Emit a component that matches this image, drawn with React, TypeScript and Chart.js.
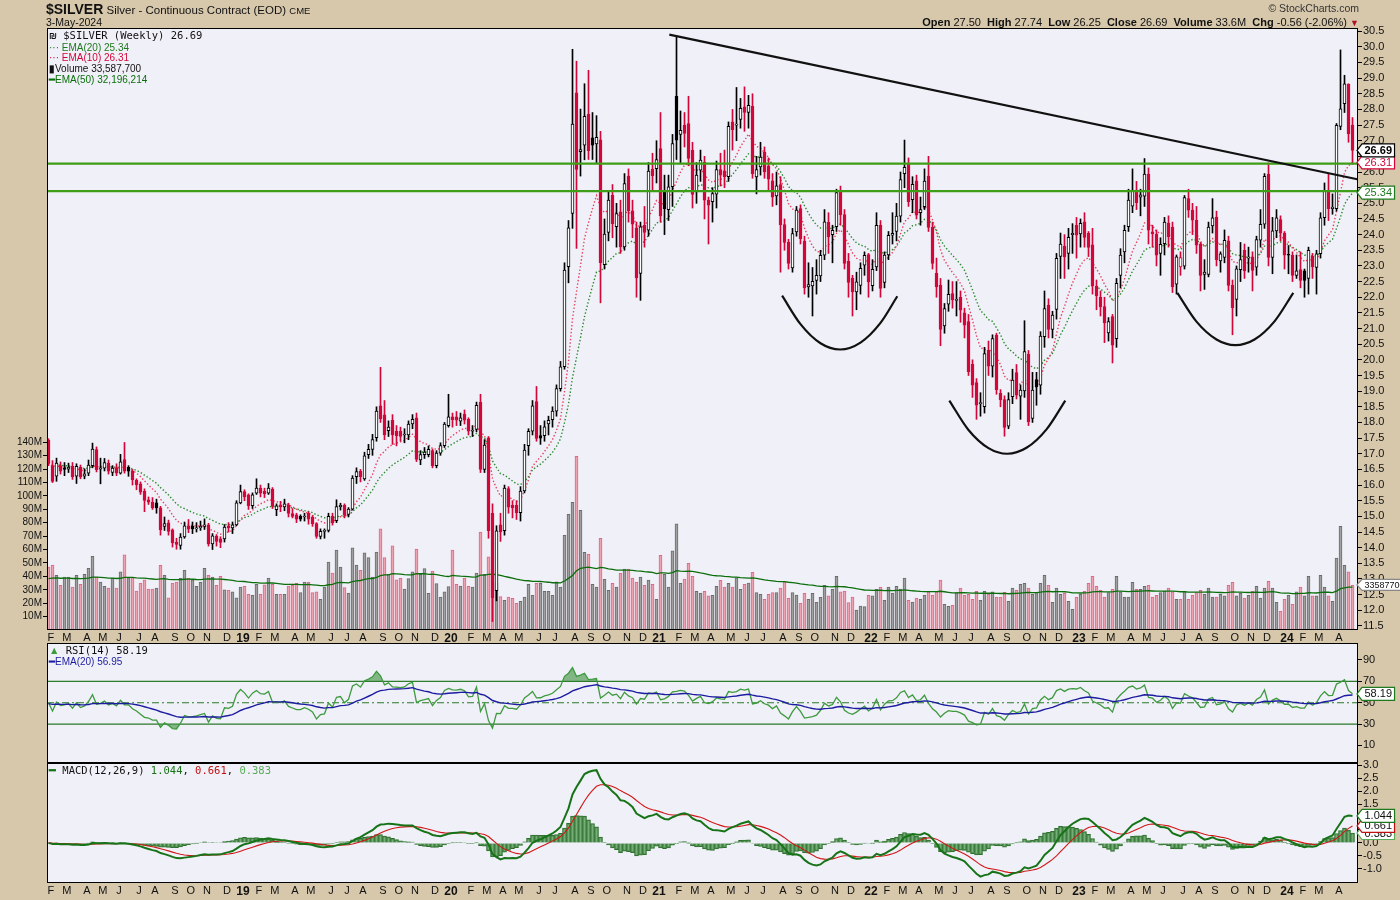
import React, { useEffect, useRef } from "react";
import { Chart, registerables } from "chart.js";

Chart.register(...registerables);

// ---------- weekly candles [open, high, low, close] (week of Friday) ----------
const silver2018 = [
  [17.43,17.48,16.62,16.70],[16.62,16.78,16.08,16.12],[16.28,16.86,16.12,16.70],[16.62,16.74,16.35,16.44],
  [16.55,16.72,16.30,16.50],[16.51,16.70,16.40,16.57],[16.60,16.72,16.18,16.26],[16.28,16.68,16.05,16.60],
  [16.57,16.64,16.20,16.26],[16.28,16.52,16.20,16.36],[16.38,16.80,16.30,16.64],[16.62,17.34,16.55,17.15],
  [17.13,17.22,16.42,16.49],[16.51,16.86,16.04,16.55],[16.54,16.85,16.45,16.72],[16.70,16.80,16.35,16.44],
  [16.40,16.62,16.30,16.54],[16.54,16.68,16.30,16.38],[16.38,16.98,16.35,16.74],[16.81,17.36,16.38,16.44],
  [16.57,16.62,16.28,16.44],[16.44,16.50,16.00,16.17],[16.15,16.20,15.85,16.01],[16.04,16.10,15.70,15.77],
  [15.80,15.88,15.15,15.51],[15.53,15.62,15.38,15.45],[15.45,15.60,15.22,15.27],[15.43,15.55,15.10,15.27],
  [15.27,15.32,14.40,14.57],[14.68,14.98,14.55,14.77],[14.79,14.88,14.40,14.52],[14.57,14.60,14.02,14.15],
  [14.17,14.30,13.95,14.10],[14.07,14.45,13.95,14.34],[14.34,14.82,14.30,14.70],[14.70,14.90,14.48,14.59],
  [14.68,14.82,14.45,14.60],[14.60,14.80,14.50,14.63],[14.63,14.85,14.55,14.68],[14.68,14.92,14.58,14.73],
  [14.73,14.78,14.05,14.12],[14.12,14.45,13.94,14.38],[14.36,14.42,14.05,14.20],[14.28,14.35,14.00,14.17],
  [14.28,14.74,14.18,14.66],[14.68,14.80,14.50,14.63],[14.63,14.82,14.45,14.73],[14.73,15.50,14.70,15.43],
];
const silver2019 = [
  [15.43,16.00,15.40,15.79],[15.79,15.85,15.50,15.62],[15.69,15.72,15.22,15.34],[15.34,15.75,15.25,15.69],
  [15.74,16.20,15.70,15.90],[15.90,16.00,15.62,15.74],[15.80,15.90,15.60,15.72],[15.74,16.05,15.70,15.90],
  [15.87,15.92,15.25,15.32],[15.21,15.40,15.02,15.34],[15.37,15.48,15.15,15.30],[15.30,15.55,15.18,15.40],
  [15.37,15.42,14.98,15.09],[15.09,15.25,14.95,15.00],[15.05,15.10,14.80,14.91],[15.00,15.05,14.85,14.91],
  [14.98,15.10,14.85,14.99],[15.10,15.15,14.75,14.91],[14.98,15.02,14.68,14.77],[14.77,14.80,14.30,14.36],
  [14.36,14.60,14.28,14.52],[14.52,14.60,14.30,14.55],[14.55,15.10,14.50,15.00],[15.00,15.10,14.72,14.79],
  [14.86,15.53,14.80,15.31],[15.31,15.42,15.20,15.35],[15.35,15.40,14.95,15.04],[15.06,15.28,14.98,15.23],
  [15.23,16.30,15.20,16.22],[16.27,16.55,16.05,16.43],[16.44,16.50,16.10,16.27],[16.20,17.05,16.15,16.93],
  [16.97,17.30,16.85,17.14],[17.14,17.62,16.95,17.45],[17.51,18.50,17.40,18.36],[18.53,19.76,18.00,18.12],
  [18.24,18.70,17.45,17.60],[17.74,18.05,17.55,17.85],[18.07,18.25,17.30,17.60],[17.72,17.90,17.25,17.58],
  [17.72,17.85,17.40,17.55],[17.60,17.80,17.35,17.63],[17.60,18.05,17.45,17.95],[17.95,18.25,17.80,18.10],
  [18.15,18.30,16.75,16.82],[16.80,17.10,16.65,16.97],[16.97,17.20,16.85,17.05],[16.97,17.25,16.90,17.14],
  [17.10,17.15,16.55,16.62],[16.62,17.10,16.55,17.02],[17.02,17.35,16.95,17.26],[17.26,18.00,17.20,17.95],
];
const silver2020 = [
  [17.90,18.90,17.85,18.18],[18.18,18.30,17.85,18.09],[18.18,18.35,17.90,18.07],[18.04,18.30,17.90,18.15],
  [18.27,18.40,17.95,18.07],[18.10,18.15,17.60,17.72],[17.72,17.90,17.55,17.75],[17.78,18.65,17.70,18.55],
  [18.64,18.90,16.40,16.50],[16.50,17.45,16.40,17.28],[17.51,17.55,14.30,14.54],[15.10,15.40,11.64,12.40],
  [12.63,14.70,12.30,14.54],[14.73,15.10,14.20,14.50],[14.54,16.00,14.40,15.90],[15.89,15.95,15.10,15.29],
  [15.35,15.50,14.95,15.27],[15.35,15.50,14.90,15.12],[15.12,15.95,14.85,15.81],[15.81,17.30,15.75,17.12],
  [17.26,17.80,16.95,17.72],[17.72,18.70,17.60,18.53],[18.67,19.15,17.40,17.49],[17.58,17.90,17.30,17.50],
  [17.58,18.05,17.40,17.86],[17.95,18.20,17.60,18.07],[18.09,18.50,17.85,18.36],[18.36,19.20,18.20,19.08],
  [19.08,19.95,19.00,19.78],[19.78,23.10,19.70,22.87],[22.98,24.45,22.46,24.22],[24.68,29.92,24.20,27.53],
  [28.53,29.54,23.56,26.08],[26.65,28.01,25.87,26.72],[26.86,28.82,26.39,27.78],[27.84,29.25,26.40,26.68],
  [27.09,27.90,26.40,26.86],[26.90,27.80,26.30,27.11],[27.03,27.30,21.82,23.10],[23.04,24.50,22.90,24.02],
  [24.07,25.40,23.80,25.10],[25.26,25.60,23.90,24.35],[24.25,25.00,23.60,24.67],[24.73,25.10,23.40,23.61],
  [23.61,25.95,23.50,25.63],[25.87,26.10,24.40,24.76],[24.76,25.10,23.90,24.33],[24.22,24.40,22.00,22.62],
  [22.76,24.40,21.90,24.25],[24.30,24.90,23.60,24.07],[24.14,26.30,23.95,26.03],[26.09,26.60,25.40,25.88],
];
const silver2021 = [
  [26.11,27.00,25.65,26.40],[26.75,27.90,24.40,24.60],[25.39,25.90,24.00,24.83],[24.80,25.90,24.45,25.53],
  [25.53,27.20,24.90,26.91],[28.42,30.35,26.40,27.02],[27.20,27.95,26.30,27.33],[27.50,27.90,26.80,27.23],
  [27.55,28.42,26.20,26.43],[26.70,26.95,24.85,25.28],[25.36,26.30,25.00,25.90],[26.06,26.70,25.70,26.38],
  [26.32,26.50,24.50,25.10],[25.10,25.20,23.70,24.94],[25.05,25.50,24.40,25.31],[25.29,26.35,24.85,26.08],
  [26.08,26.60,25.55,25.90],[26.04,26.70,25.50,25.85],[25.85,27.60,25.70,27.46],[27.60,28.00,26.70,27.35],
  [27.50,28.70,27.00,27.52],[27.68,28.35,27.40,28.03],[28.08,28.72,27.30,27.90],[27.90,28.45,27.40,28.13],
  [28.10,28.50,25.80,25.95],[25.84,26.50,25.30,26.08],[26.16,26.95,25.90,26.48],[26.64,26.80,25.80,26.00],
  [26.20,26.45,25.40,25.77],[25.72,25.95,24.90,25.20],[25.24,26.00,24.95,25.56],[25.60,25.85,22.80,24.32],
  [24.32,24.50,23.50,23.75],[23.75,23.85,22.90,23.08],[22.94,24.20,22.80,24.03],[24.09,24.90,23.95,24.78],
  [24.83,24.95,23.70,23.87],[23.79,23.95,22.10,22.30],[22.33,23.10,22.00,22.40],[22.36,22.95,21.40,22.51],
  [22.54,23.20,22.10,22.70],[22.68,23.50,22.50,23.34],[23.34,24.80,23.20,24.41],[24.39,24.70,23.40,23.93],
  [24.00,24.30,23.10,24.14],[24.25,25.45,24.10,25.34],[25.40,25.55,24.30,24.64],[24.64,24.80,22.90,23.08],
  [23.15,23.40,22.00,22.47],[22.60,22.70,21.40,22.17],[22.17,22.80,21.60,22.49],[22.38,23.10,22.10,22.92],
  [23.02,23.45,22.70,23.34],
];
const silver2022 = [
  [23.36,23.40,22.00,22.49],[22.37,23.20,22.20,22.89],[22.97,24.70,22.85,24.30],[24.30,24.45,22.00,22.28],
  [22.47,23.45,22.30,23.35],[23.35,24.10,23.20,23.98],[23.98,24.70,23.70,24.04],[24.10,25.00,23.80,24.59],
  [24.59,26.00,24.40,25.76],[25.95,27.02,25.50,26.15],[26.27,26.45,24.90,25.05],[25.12,25.85,24.70,25.61],
  [25.72,25.90,24.50,24.62],[24.70,25.20,24.30,24.80],[24.89,26.10,24.80,25.71],[25.87,26.50,24.10,24.23],
  [24.23,24.40,22.90,23.08],[22.76,23.25,22.00,22.33],[22.39,22.60,20.45,20.97],[21.08,21.80,20.85,21.64],
  [21.78,22.55,21.55,22.09],[22.12,22.50,21.65,21.91],[21.90,22.50,21.40,21.92],[22.00,22.20,21.20,21.59],
  [21.50,21.65,20.70,21.11],[21.22,21.45,19.50,19.62],[19.86,20.00,18.80,19.19],[19.27,19.40,18.10,18.55],
  [18.60,18.95,18.20,18.62],[18.50,20.40,18.30,20.20],[20.30,20.60,19.50,19.80],[19.80,20.80,19.45,20.68],
  [20.79,20.85,18.90,19.05],[18.93,19.05,18.50,18.73],[18.73,18.85,17.56,17.84],[17.88,18.95,17.80,18.73],
  [18.82,19.70,18.60,19.35],[19.59,19.85,18.75,18.87],[18.84,19.20,18.10,19.03],[19.01,21.25,18.80,20.26],
  [20.18,20.30,17.90,18.02],[18.13,19.60,18.00,19.03],[19.37,19.60,18.55,19.14],[19.19,20.90,18.90,20.76],
  [20.74,22.20,20.40,21.64],[21.75,21.95,20.70,20.97],[20.97,21.55,20.70,21.43],[21.61,23.40,21.30,23.24],
  [23.30,24.05,22.60,23.70],[23.63,24.00,22.60,23.29],[23.40,24.20,22.90,23.91],[24.00,24.35,23.40,24.04],
];
const silver2023 = [
  [24.30,24.55,23.25,23.98],[24.02,24.50,23.60,24.36],[24.41,24.70,23.60,23.91],[24.04,24.10,23.30,23.59],
  [23.67,24.20,22.10,22.36],[22.36,22.55,21.60,22.04],[22.00,22.20,21.40,21.70],[21.70,22.00,20.55,21.18],
  [20.86,21.35,20.60,21.22],[21.38,21.45,19.90,20.47],[20.68,22.60,20.40,22.44],[22.70,23.55,22.30,23.35],
  [23.45,24.30,23.10,24.14],[24.25,25.45,24.10,25.10],[24.91,26.10,24.70,25.42],[25.42,25.70,24.80,25.02],
  [25.20,25.45,24.60,25.27],[25.23,26.43,24.90,25.93],[25.93,26.13,23.70,24.14],[24.09,24.30,23.60,24.02],
  [24.02,24.15,23.00,23.34],[23.40,23.90,22.70,23.69],[23.71,24.55,23.35,24.40],[24.37,24.60,23.60,23.93],
  [24.24,24.40,22.15,22.33],[22.42,23.35,22.10,23.29],[22.97,23.45,22.70,23.27],[22.99,25.25,22.90,25.18],
  [25.15,25.45,24.55,24.78],[24.78,25.00,24.00,24.46],[24.46,24.90,23.40,23.66],[23.69,23.75,22.20,22.70],
  [22.73,23.20,22.25,22.80],[22.73,24.40,22.65,24.24],[24.28,25.15,24.05,24.54],[24.56,24.75,23.00,23.20],
  [23.16,23.45,22.80,23.39],[23.27,24.15,23.10,23.82],[23.80,23.95,22.20,22.38],[22.38,22.55,20.80,21.67],
  [21.93,23.00,21.40,22.91],[22.88,23.75,22.50,23.20],[23.50,23.70,22.60,22.84],[23.25,23.60,22.80,23.27],
  [23.29,23.45,22.20,22.86],[22.96,23.95,22.70,23.84],[23.82,24.80,23.60,24.33],[24.33,25.95,24.20,25.86],
  [25.93,26.29,23.00,23.27],[23.27,24.55,22.75,24.12],[24.12,24.80,23.90,24.54],[24.48,24.60,23.80,24.05],
];
const silver2024 = [
  [24.05,24.10,22.90,23.34],[23.36,23.65,22.75,23.34],[23.34,23.45,22.50,22.70],[22.70,23.35,22.60,22.84],
  [22.88,23.45,22.30,22.54],[22.84,22.90,22.00,22.54],[22.60,23.60,22.10,23.50],[23.31,23.40,22.60,22.97],
  [22.95,23.50,22.10,23.39],[23.39,24.70,23.25,24.54],[24.54,25.65,24.30,25.39],[25.39,25.93,24.45,24.83],
  [24.83,25.30,24.65,24.88],[24.83,27.55,24.75,27.49],[27.46,29.90,27.35,28.02],[28.18,29.09,27.90,28.82],
  [28.80,28.82,26.95,27.22],[27.50,27.74,26.25,26.69],
];

// ---------- weekly volume, millions of contracts ----------
const volume2018 = [47,48.5,40.8,33.3,39.5,39.5,32,40.8,34,41.5,46,55,39.5,35.8,32.6,31.3,38.5,31.3,43.3,56,39,39,29,35,37.5,30.6,30.6,31.3,48.3,40.8,24,35,35.8,38.5,44.5,38.5,37.5,32.6,35.6,46,40.8,39.5,33.3,40,29.9,29.6,28.4,24];
const volume2019 = [32,32.6,26.6,25.9,34,26.6,33.6,38.8,34,26.6,26.6,26.6,32.8,33.3,34.8,27.9,35.8,35.8,27.9,28.4,22.9,32,50.7,42.5,59.7,47,31.6,27.6,61.2,48.5,44.5,57.5,54,39.5,58.2,75.4,54,41.5,62.7,37.5,38.5,30.6,38.3,43.3,60.4,41.5,45.8,27.4,44,34.6,24.6,28.4];
const volume2020 = [32.3,59.7,34,32.8,38.8,32.6,32,42.5,73,41.5,54.5,45,34.8,24.9,22.1,24.6,23.6,19.9,21.4,24.6,34,25.9,34.8,34.8,28.9,28.9,25.9,36,32,70.6,86.3,95.3,129.6,89.3,58,56.5,34,32,68.4,37.8,29.6,34.8,32,42.3,45.5,45.5,38.8,35.8,39.5,33.3,37.3,34];
const volume2021 = [22.9,55.7,41.5,32,59,79.1,34.8,38,49.8,40,28.9,27.6,28.9,25.4,25.9,32.6,37,32,34.8,32,39,30.3,34,35,43,27.9,26.6,22.9,26.6,27.9,27.9,31.3,35.8,23.6,27.9,26.1,19.9,27.4,22.9,27.4,20.6,24.4,33.3,25.4,30.3,40,28.4,29.1,20.4,24.6,14.9,17.9,17.4];
const volume2022 = [25.9,25.4,30.3,32,22.1,32,27.6,32.6,30.6,38.8,22.1,20.9,23.9,22.9,25.9,28.4,25.9,28.4,37.3,19.2,17.7,18.4,27.9,31.3,25.9,26.6,22.9,28.9,22.1,28.9,26.6,28.4,24.6,24.6,28.1,21.4,31.3,29.6,34,34.8,31.3,26.6,27.9,34.8,40.8,33.3,20.6,31.3,26.6,27.4,21.4,15.4];
const volume2023 = [24.6,26.6,28.9,34.8,40,32.6,29.6,24.6,27.9,30.3,40,28.4,24.6,24.6,35.6,30.3,30.3,32.6,33.3,24.6,25.9,27.9,28.9,31.3,28.4,22.9,22.9,28.9,22.9,25.9,27.9,29.6,26.6,31.3,24.6,24.6,26.6,25.4,33.3,35.6,25.4,27.4,23.9,25.9,28.9,32.6,23.9,31.3,36.3,31.3,20.6,13.9];
const volume2024 = [22.9,25.9,19.2,28.4,32,25.4,40,25.4,25.4,40.8,32,25.4,21.4,53.7,77.4,48.3,43.3,33.59];

// ---------- axis ticks ----------
const monthTickIndex = [0,4,9,13,17,22,26,31,35,39,44,48,52,56,61,65,70,74,78,83,87,91,96,100,105,109,113,117,122,126,131,135,139,144,148,152,157,161,165,170,174,178,183,187,191,196,200,205,209,213,217,222,226,230,235,239,244,248,252,257,261,265,270,274,278,283,287,291,296,300,304,309,313,317,322];
const monthTickLabel = ["F","M","A","M","J","J","A","S","O","N","D","19","F","M","A","M","J","J","A","S","O","N","D","20","F","M","A","M","J","J","A","S","O","N","D","21","F","M","A","M","J","J","A","S","O","N","D","22","F","M","A","M","J","J","A","S","O","N","D","23","F","M","A","M","J","J","A","S","O","N","D","24","F","M","A"];
const priceTicks = [11.5,12,12.5,13,13.5,14,14.5,15,15.5,16,16.5,17,17.5,18,18.5,19,19.5,20,20.5,21,21.5,22,22.5,23,23.5,24,24.5,25,25.5,26,26.5,27,27.5,28,28.5,29,29.5,30,30.5];
const volumeTicks = [10,20,30,40,50,60,70,80,90,100,110,120,130,140];
const rsiTicks = [10,30,50,70,90];
const macdTicks = [-1,-0.5,0,0.5,1,1.5,2,2.5,3];

// ---------- drawn annotations (week index, price) ----------
const trendX = [155.2, 327.2];
const trendY = [30.39, 25.77];
const supportLevels = [26.27, 25.39];
const arc1X = [183.4,188,193,197.9,203,208,212.2];
const arc1Y = [22.05,21.14,20.53,20.33,20.55,21.18,22.03];
const arc2X = [225.2,230,235,239.7,244.5,249.5,254.2];
const arc2Y = [18.70,17.76,17.18,17.0,17.19,17.78,18.70];
const arc3X = [282.2,287,292,296.7,301.5,306.5,311.2];
const arc3Y = [22.14,21.22,20.65,20.47,20.65,21.23,22.14];

// ---------- last values shown in legends / tags ----------
const lastClose = 26.69, lastEma10 = 26.31, lastEma20 = 25.34, lastVolumeM = 33.5877;
const lastRsi = 58.19, lastMacd = 1.044, lastSignal = 0.661, lastHist = 0.383;

// ---------- styling ----------
const SANS = "'Liberation Sans', Arial, sans-serif";
const MONO = "'DejaVu Sans Mono', monospace";
const TAN = "#D7C8AC";
const PLOT_BG = "#F0F0F8";
const RED = "#D3063A";
const GREEN_LINE = "#3F9E17";

const bars = [...silver2018, ...silver2019, ...silver2020, ...silver2021, ...silver2022, ...silver2023, ...silver2024];
const volumes = [...volume2018, ...volume2019, ...volume2020, ...volume2021, ...volume2022, ...volume2023, ...volume2024];
const N = bars.length;
const X_MIN = -0.375;
const X_MAX = N + 0.375;
const closes = bars.map((b) => b[3]);

function ema(vals: number[], p: number, seed?: number) {
  const k = 2 / (p + 1);
  const out: number[] = [];
  vals.forEach((v, i) => {
    if (i === 0) out.push(seed === undefined ? v : seed + k * (v - seed));
    else out.push(out[i - 1] + k * (v - out[i - 1]));
  });
  return out;
}
function rsi(vals: number[], p: number) {
  let ag = 0.12, al = 0.12;
  const out: number[] = [50];
  for (let i = 1; i < vals.length; i++) {
    const d = vals[i] - vals[i - 1];
    ag = (ag * (p - 1) + Math.max(d, 0)) / p;
    al = (al * (p - 1) + Math.max(-d, 0)) / p;
    out.push(al === 0 ? 100 : 100 - 100 / (1 + ag / al));
  }
  return out;
}

const ema10 = ema(closes, 10);
const ema20 = ema(closes, 20);
const volEma50 = ema(volumes, 50, 38);
const rsi14 = rsi(closes, 14);
const rsiEma20 = ema(rsi14, 20, 49);
const ema12 = ema(closes, 12);
const ema26 = ema(closes, 26);
const macd = ema12.map((v, i) => v - ema26[i]);
const signal = ema(macd, 9);
const hist = macd.map((v, i) => v - signal[i]);

const pts = (arr: number[]) => arr.map((y, i) => ({ x: i, y }));
const xy = (xs: number[], ys: number[]) => xs.map((x, i) => ({ x, y: ys[i] }));
const hline = (y: number) => [{ x: X_MIN, y }, { x: X_MAX, y }];

const candleColor = bars.map((b, i) => (b[3] >= (i > 0 ? bars[i - 1][3] : b[0]) ? "#000000" : RED));
const candleFill = bars.map((b, i) => (b[3] >= b[0] ? "#FFFFFF" : candleColor[i]));
const volUp = volumes.map((_, i) => i > 0 && bars[i][3] >= bars[i - 1][3]);

const xTickFont = (c: any) => {
  const l = monthTickLabel[c.index] || "";
  return /^\d/.test(l) ? { family: SANS, size: 12, weight: "bold" } : { family: SANS, size: 11 };
};

function xAxis(display: boolean, height: number) {
  return {
    type: "linear",
    min: X_MIN,
    max: X_MAX,
    offset: false,
    bounds: "data",
    position: "bottom",
    display,
    grid: { display: false, drawTicks: false },
    border: { display: false },
    afterBuildTicks: (s: any) => {
      s.ticks = monthTickIndex.map((v) => ({ value: v + 0.6 }));
    },
    afterFit: (s: any) => {
      s.height = height;
      s.paddingLeft = 0;
      s.paddingRight = 0;
    },
    ticks: {
      autoSkip: false,
      maxRotation: 0,
      minRotation: 0,
      padding: 1,
      color: "#111",
      font: xTickFont,
      callback: (_v: any, i: number) => monthTickLabel[i] || "",
    },
  };
}

function yAxis(position: string, min: number, max: number, ticks: number[], width: number, fmt: (v: number) => string, size = 11) {
  return {
    type: "linear",
    position,
    min,
    max,
    bounds: "data",
    afterBuildTicks: (s: any) => {
      s.ticks = ticks.map((v) => ({ value: v }));
    },
    afterFit: (s: any) => {
      s.width = width;
      s.paddingTop = 0;
      s.paddingBottom = 0;
    },
    grid: { drawOnChartArea: false, drawTicks: true, tickLength: 4, color: "#000", lineWidth: 1 },
    border: { display: false },
    ticks: { autoSkip: false, padding: 1, color: "#111", font: { family: SANS, size }, callback: (v: any) => fmt(Number(v)) },
  };
}

type Tag = { axis: string; value: number; text: string; border: string; color: string; bold?: boolean; size?: number };

function panelPlugin(id: string, tags: Tag[]) {
  return {
    id,
    beforeDraw(chart: any) {
      const { ctx, chartArea: a } = chart;
      ctx.save();
      ctx.fillStyle = PLOT_BG;
      ctx.fillRect(a.left, a.top, a.right - a.left, a.bottom - a.top);
      ctx.restore();
    },
    afterDraw(chart: any) {
      const { ctx, chartArea: a } = chart;
      ctx.save();
      ctx.strokeStyle = "#000";
      ctx.lineWidth = 1;
      ctx.strokeRect(a.left + 0.5, a.top + 0.5, a.right - a.left - 1, a.bottom - a.top - 1);
      tags.forEach((t) => {
        const y = chart.scales[t.axis].getPixelForValue(t.value);
        const size = t.size || 11;
        ctx.font = `${t.bold ? "bold " : ""}${size}px ${SANS}`;
        const tw = ctx.measureText(t.text).width;
        const h = size + 2;
        const x0 = a.right - 1;
        const x1 = x0 + 5;
        const x2 = x1 + tw + 5;
        ctx.beginPath();
        ctx.moveTo(x0, y);
        ctx.lineTo(x1, y - h / 2);
        ctx.lineTo(x2, y - h / 2);
        ctx.lineTo(x2, y + h / 2);
        ctx.lineTo(x1, y + h / 2);
        ctx.closePath();
        ctx.fillStyle = "#FFFFFF";
        ctx.fill();
        ctx.lineWidth = 1.2;
        ctx.strokeStyle = t.border;
        ctx.stroke();
        ctx.fillStyle = t.color;
        ctx.textBaseline = "middle";
        ctx.textAlign = "left";
        ctx.fillText(t.text, x1 + 2.5, y + 0.5);
      });
      ctx.restore();
    },
  };
}

const line = (data: any[], color: string, width: number, extra: any = {}) => ({
  type: "line",
  data,
  borderColor: color,
  borderWidth: width,
  pointRadius: 0,
  fill: false,
  tension: 0,
  ...extra,
});

const baseOptions = (padTop: number, padLeft: number) => ({
  responsive: false,
  maintainAspectRatio: false,
  animation: false,
  devicePixelRatio: 1,
  events: [],
  layout: { padding: { top: padTop, left: padLeft, right: 0, bottom: 0 } },
  plugins: { legend: { display: false }, tooltip: { enabled: false } },
});

function mainConfig(): any {
  return {
    type: "bar",
    data: {
      datasets: [
        {
          type: "bar",
          yAxisID: "yVol",
          data: pts(volumes),
          backgroundColor: volUp.map((u) => (u ? "#A0A0A0" : "#EEA3B1")),
          borderColor: volUp.map((u) => (u ? "#6B6B6B" : "#E0678A")),
          borderWidth: 1,
          borderSkipped: "start",
          barThickness: 3,
          grouped: false,
          order: 20,
        },
        line(pts(volEma50), "#0B6E0B", 1.3, { yAxisID: "yVol", order: 19 }),
        line(pts(ema20), "#2B8A2B", 1.4, { yAxisID: "y", borderDash: [1.4, 2.1], order: 13 }),
        line(pts(ema10), "#E8405E", 1.4, { yAxisID: "y", borderDash: [1.4, 2.1], order: 12 }),
        {
          type: "bar",
          yAxisID: "y",
          data: bars.map((b, i) => ({ x: i, y: [b[2], b[1]] })),
          backgroundColor: candleColor,
          borderWidth: 0,
          barThickness: 1,
          grouped: false,
          order: 11,
        },
        {
          type: "bar",
          yAxisID: "y",
          data: bars.map((b, i) => ({ x: i, y: [Math.min(b[0], b[3]), Math.max(b[0], b[3])] })),
          backgroundColor: candleFill,
          borderColor: candleColor,
          borderWidth: 1,
          borderSkipped: false,
          barThickness: 3,
          minBarLength: 1,
          grouped: false,
          order: 10,
        },
        line(hline(supportLevels[0]), GREEN_LINE, 2.2, { yAxisID: "y", order: 3 }),
        line(hline(supportLevels[1]), GREEN_LINE, 2.2, { yAxisID: "y", order: 3 }),
        line(xy(trendX, trendY), "#111", 2.2, { yAxisID: "y", order: 2 }),
        line(xy(arc1X, arc1Y), "#111", 2.2, { yAxisID: "y", order: 2, cubicInterpolationMode: "monotone" }),
        line(xy(arc2X, arc2Y), "#111", 2.2, { yAxisID: "y", order: 2, cubicInterpolationMode: "monotone" }),
        line(xy(arc3X, arc3Y), "#111", 2.2, { yAxisID: "y", order: 2, cubicInterpolationMode: "monotone" }),
      ],
    },
    options: {
      ...baseOptions(28, 0),
      scales: {
        x: xAxis(true, 13),
        y: yAxis("right", 11.37, 30.6, priceTicks, 42, (v) => v.toFixed(1)),
        yVol: yAxis("left", 0, 449, volumeTicks, 47, (v) => `${v}M`, 10),
      },
    },
    plugins: [
      panelPlugin("mainPanel", [
        { axis: "yVol", value: lastVolumeM, text: "33587700", border: "#888", color: "#111", size: 9 },
        { axis: "y", value: lastEma20, text: lastEma20.toFixed(2), border: "#1E7A1E", color: "#1E7A1E" },
        { axis: "y", value: lastEma10, text: lastEma10.toFixed(2), border: RED, color: RED },
        { axis: "y", value: lastClose, text: lastClose.toFixed(2), border: "#000", color: "#000", bold: true },
      ]),
    ],
  };
}

function rsiConfig(): any {
  const RSI_FILL = "rgba(70,150,70,0.65)";
  return {
    type: "line",
    data: {
      datasets: [
        line(pts(rsi14), "#3E9A3E", 1.3, {
          fill: { target: { value: 70 }, above: RSI_FILL, below: "rgba(0,0,0,0)" },
          order: 1,
        }),
        line(pts(rsi14), "rgba(0,0,0,0)", 0, {
          fill: { target: { value: 30 }, above: "rgba(0,0,0,0)", below: RSI_FILL },
          order: 2,
        }),
        line(pts(rsiEma20), "#1C1CA0", 1.4, { order: 0 }),
        line(hline(70), "#2A7A2A", 1.2, { order: 5 }),
        line(hline(30), "#2A7A2A", 1.2, { order: 5 }),
        line(hline(50), "#2A7A2A", 1.1, { order: 5, borderDash: [7, 3, 2, 3] }),
      ],
    },
    options: {
      ...baseOptions(0, 47),
      scales: {
        x: xAxis(false, 0),
        y: yAxis("right", -6.4, 105.8, rsiTicks, 42, (v) => String(v)),
      },
    },
    plugins: [panelPlugin("rsiPanel", [{ axis: "y", value: lastRsi, text: lastRsi.toFixed(2), border: "#1E7A1E", color: "#111" }])],
  };
}

function macdConfig(): any {
  return {
    type: "bar",
    data: {
      datasets: [
        {
          type: "bar",
          data: pts(hist),
          backgroundColor: "rgba(84,160,84,0.8)",
          borderColor: "#2E6E2E",
          borderWidth: 1,
          borderSkipped: "start",
          barThickness: 4,
          grouped: false,
          order: 10,
        },
        line(pts(signal), "#D01818", 1.1, { order: 2 }),
        line(pts(macd), "#177317", 2, { order: 1 }),
      ],
    },
    options: {
      ...baseOptions(8, 47),
      scales: {
        x: xAxis(true, 17),
        y: yAxis("right", -1.55, 3.09, macdTicks, 42, (v) => v.toFixed(1)),
      },
    },
    plugins: [
      panelPlugin("macdPanel", [
        { axis: "y", value: lastHist, text: lastHist.toFixed(3), border: "#5AAA5A", color: "#111" },
        { axis: "y", value: lastSignal, text: lastSignal.toFixed(3), border: "#C01010", color: "#111" },
        { axis: "y", value: lastMacd, text: lastMacd.toFixed(3), border: "#1E7A1E", color: "#111" },
      ]),
    ],
  };
}

const abs: any = { position: "absolute", whiteSpace: "nowrap" };

export default function App() {
  const mainRef = useRef<HTMLCanvasElement>(null);
  const rsiRef = useRef<HTMLCanvasElement>(null);
  const macdRef = useRef<HTMLCanvasElement>(null);

  useEffect(() => {
    document.body.style.margin = "0";
    Chart.defaults.font.family = SANS;
    const charts: Chart[] = [];
    if (mainRef.current) charts.push(new Chart(mainRef.current, mainConfig()));
    if (rsiRef.current) charts.push(new Chart(rsiRef.current, rsiConfig()));
    if (macdRef.current) charts.push(new Chart(macdRef.current, macdConfig()));
    return () => charts.forEach((c) => c.destroy());
  }, []);

  const legendLine: any = { fontSize: 10, lineHeight: "10.8px", fontFamily: SANS };

  return (
    <div style={{ position: "relative", width: 1400, height: 900, background: TAN, overflow: "hidden", fontFamily: SANS, color: "#111" }}>
      <canvas ref={mainRef} width={1400} height={643} style={{ position: "absolute", left: 0, top: 0 }} />
      <canvas ref={rsiRef} width={1400} height={120} style={{ position: "absolute", left: 0, top: 643 }} />
      <canvas ref={macdRef} width={1400} height={145} style={{ position: "absolute", left: 0, top: 755 }} />

      {/* header */}
      <div style={{ ...abs, left: 46, top: 1, fontSize: 11.5, lineHeight: "16px" }}>
        <span style={{ fontSize: 14, fontWeight: "bold" }}>$SILVER</span> Silver - Continuous Contract (EOD){" "}
        <span style={{ fontSize: 9.5 }}>CME</span>
      </div>
      <div style={{ ...abs, left: 46, top: 16, fontSize: 10.5, lineHeight: "12px" }}>3-May-2024</div>
      <div style={{ ...abs, right: 41, top: 2, fontSize: 10.5, lineHeight: "12px", color: "#333" }}>© StockCharts.com</div>
      <div style={{ ...abs, right: 41, top: 16, fontSize: 11, lineHeight: "12px" }}>
        <b>Open</b> 27.50&nbsp; <b>High</b> 27.74&nbsp; <b>Low</b> 26.25&nbsp; <b>Close</b> 26.69&nbsp; <b>Volume</b> 33.6M&nbsp;{" "}
        <b>Chg</b> -0.56 (-2.06%) <span style={{ color: "#B0102A", fontSize: 9 }}>▼</span>
      </div>

      {/* main legend */}
      <div style={{ ...abs, left: 49, top: 30 }}>
        <div style={{ ...legendLine, fontFamily: MONO, fontSize: 10.5, lineHeight: "11.5px" }}>
          <span style={{ fontFamily: SANS, fontSize: 9, fontWeight: "bold" }}>₪</span> $SILVER (Weekly) 26.69
        </div>
        <div style={{ ...legendLine, color: "#1E7A1E" }}>··· EMA(20) 25.34</div>
        <div style={{ ...legendLine, color: RED }}>··· EMA(10) 26.31</div>
        <div style={legendLine}>
          <span style={{ fontWeight: "bold" }}>▮</span>Volume 33,587,700
        </div>
        <div style={{ ...legendLine, color: "#0B6E0B" }}>
          <span style={{ fontWeight: "bold" }}>━</span>EMA(50) 32,196,214
        </div>
      </div>

      {/* RSI legend */}
      <div style={{ ...abs, left: 49, top: 645 }}>
        <div style={{ ...legendLine, fontFamily: MONO, fontSize: 10.5, lineHeight: "11.5px" }}>
          <span style={{ color: "#3E9A3E", fontFamily: SANS }}>▲</span> RSI(14) 58.19
        </div>
        <div style={{ ...legendLine, color: "#1C1CA0" }}>
          <span style={{ fontWeight: "bold" }}>━</span>EMA(20) 56.95
        </div>
      </div>

      {/* MACD legend */}
      <div style={{ ...abs, left: 49, top: 765, fontFamily: MONO, fontSize: 10.5, lineHeight: "11.5px" }}>
        <span style={{ color: "#177317", fontFamily: SANS, fontWeight: "bold" }}>━</span> MACD(12,26,9){" "}
        <span style={{ color: "#177317" }}>1.044</span>, <span style={{ color: "#C01010" }}>0.661</span>,{" "}
        <span style={{ color: "#5AAA5A" }}>0.383</span>
      </div>
    </div>
  );
}
